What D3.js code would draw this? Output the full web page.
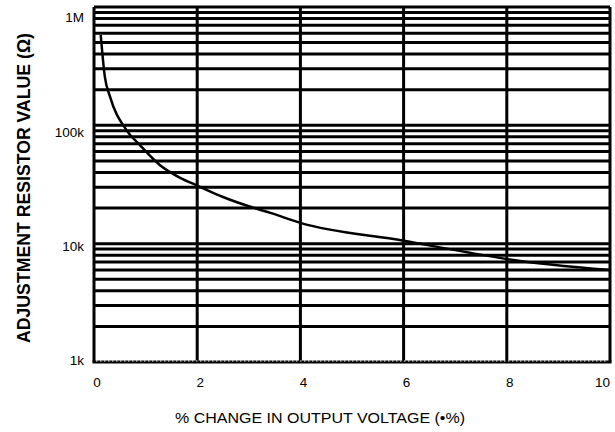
<!DOCTYPE html>
<html>
<head>
<meta charset="utf-8">
<script src="https://cdn.jsdelivr.net/npm/d3@7"></script>
<style>
    body { margin: 0; background: #fff; }
    text { font-family: "Liberation Sans", Arial, sans-serif; fill: #000; }
</style>
</head>
<body>
<svg id="chart"></svg>
<script>
// curve
var changePct = [0.13, 0.21, 0.31, 0.63, 0.89, 1.28, 1.67, 2.0, 2.5, 3.03, 3.42, 4.0, 6.0, 7.55, 8.02, 10.0];
var resistance = [580000, 258000, 175000, 91000, 68000, 46000, 36000, 31000, 24800, 20500, 18200, 15000, 10600, 8000, 7400, 6000];

var xTicks = [0, 2, 4, 6, 8, 10];
var yTicks = [1000, 10000, 100000, 1000000];
var yTickLabels = ["1k", "10k", "100k", "1M"];

var margin = {top: 7, right: 5, bottom: 70, left: 94};
var width = 615 - margin.left - margin.right;
var height = 432 - margin.top - margin.bottom;

var svg = d3.select("#chart")
    .attr("width", 615)
    .attr("height", 432)
    .append("g")
    .attr("transform", "translate(" + margin.left + "," + margin.top + ")");

var xScale = d3.scaleLinear().domain([0, 10]).range([0, width]);
var yScale = d3.scaleLog().domain([1000, 1000000]).range([height, 0]);
// the printed labels sit on a slightly squeezed copy of the axis
var yLabelScale = d3.scaleLog().domain([1000, 1000000]).range([height - 1.5, 10.5]);

// horizontal grid: 1..9 in every decade
var gridVals = [];
[1000, 10000, 100000].forEach(function (dec) {
    for (var m = 1; m <= 9; m++) gridVals.push(dec * m);
});
gridVals.push(1000000);

svg.selectAll("line.hgrid").data(gridVals.filter(function (v) {return v > 1000;}))
    .enter().append("line")
    .attr("class", "hgrid")
    .attr("x1", 0).attr("x2", width)
    .attr("y1", function (d) {return yScale(d);})
    .attr("y2", function (d) {return yScale(d);})
    .attr("stroke", "#000")
    .attr("stroke-width", 3);

svg.selectAll("line.vgrid").data(xTicks)
    .enter().append("line")
    .attr("class", "vgrid")
    .attr("x1", function (d) {return xScale(d);})
    .attr("x2", function (d) {return xScale(d);})
    .attr("y1", 0).attr("y2", height)
    .attr("stroke", "#000")
    .attr("stroke-width", 3);

// bottom edge: solid with dotted top
svg.append("line")
    .attr("x1", -1.5).attr("x2", width + 1.5)
    .attr("y1", height).attr("y2", height)
    .attr("stroke", "#000")
    .attr("stroke-width", 3);
svg.append("line")
    .attr("x1", 2).attr("x2", width - 2)
    .attr("y1", height - 1).attr("y2", height - 1)
    .attr("stroke", "#fff")
    .attr("stroke-width", 1)
    .attr("stroke-dasharray", "1.5,2.5");

// curve
var line = d3.line()
    .x(function (d) {return xScale(d[0]);})
    .y(function (d) {return yScale(d[1]);})
    .curve(d3.curveMonotoneX);

svg.append("path")
    .datum(d3.zip(changePct, resistance))
    .attr("d", line)
    .attr("fill", "none")
    .attr("stroke", "#000")
    .attr("stroke-width", 2.5);

// tick labels
svg.selectAll("text.ylab").data(yTicks)
    .enter().append("text")
    .attr("class", "ylab")
    .attr("x", -10)
    .attr("y", function (d) {return yLabelScale(d);})
    .attr("dy", ".35em")
    .attr("text-anchor", "end")
    .attr("font-size", 13.5)
    .text(function (d, i) {return yTickLabels[i];});

svg.selectAll("text.xlab").data(xTicks)
    .enter().append("text")
    .attr("class", "xlab")
    .attr("x", function (d, i) {return i === xTicks.length - 1 ? xScale(d) : xScale(d) + 3;})
    .attr("y", height + 25)
    .attr("text-anchor", function (d, i) {return i === xTicks.length - 1 ? "end" : "middle";})
    .attr("font-size", 13.5)
    .text(function (d) {return d;});

// axis titles
svg.append("text")
    .attr("x", 320 - margin.left)
    .attr("y", 423 - margin.top)
    .attr("text-anchor", "middle")
    .attr("font-size", 14)
    .attr("textLength", 290)
    .attr("lengthAdjust", "spacingAndGlyphs")
    .text("% CHANGE IN OUTPUT VOLTAGE (•%)");

svg.append("text")
    .attr("transform", "translate(" + (30 - margin.left) + "," + (188 - margin.top) + ") rotate(-90)")
    .attr("text-anchor", "middle")
    .attr("font-size", 19)
    .attr("font-weight", "bold")
    .attr("textLength", 310)
    .attr("lengthAdjust", "spacingAndGlyphs")
    .text("ADJUSTMENT RESISTOR VALUE (Ω)");
</script>
</body>
</html>
